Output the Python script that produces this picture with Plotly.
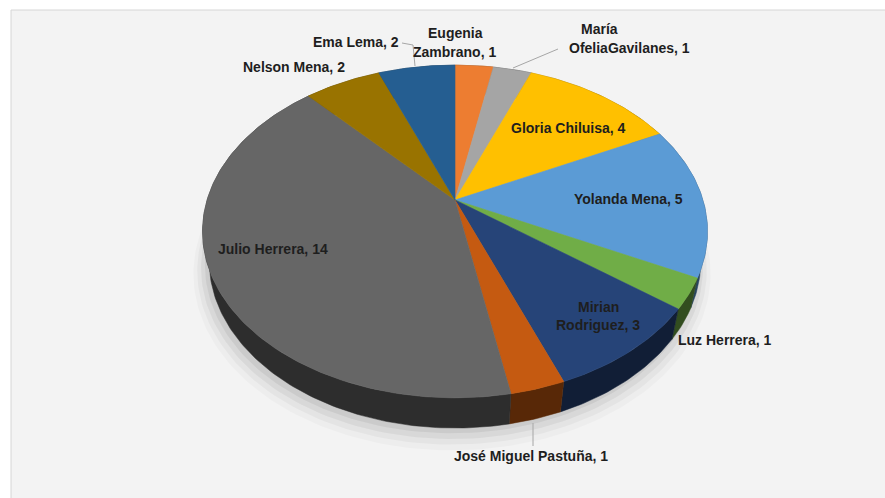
import numpy as np
import plotly.graph_objects as go

# ---------------- data ----------------
names = ["Eugenia Zambrano", "María OfeliaGavilanes", "Gloria Chiluisa", "Yolanda Mena",
         "Luz Herrera", "Mirian Rodriguez", "José Miguel Pastuña", "Julio Herrera",
         "Nelson Mena", "Ema Lema"]
values = [1, 1, 4, 5, 1, 3, 1, 14, 2, 2]
colors = ["#ED7D31", "#A5A5A5", "#FFC000", "#5B9BD5", "#70AD47", "#264478",
          "#C55A11", "#666666", "#997300", "#255E91"]
# number of words on the first line when the label wraps (0 = single line)
wrap_words = [1, 1, 0, 0, 0, 1, 0, 0, 0, 0]

# ---------------- layout / styling (not data) ----------------
W, Hpx = 885, 498
CX, CY = 455, 200             # projected pie centre (px)
K, D = 998.0, 4.026           # perspective scale and camera distance
CA, SA = 0.762, 0.647         # cos / sin of elevation
THICK = 0.161                 # pie thickness (radius units)
SIDE_DARK = 0.45

# label line centres (px) per category, one tuple per line
label_pos = [
    [(455, 33), (454, 52)],
    [(599, 29), (629, 48)],
    [(568, 128)],
    [(628, 199)],
    [(725, 340)],
    [(598, 307), (598, 325)],
    [(531, 456)],
    [(273, 249)],
    [(294, 67)],
    [(356, 42)],
]
leaders = {
    "Ema Lema": [(402, 43), (413, 45), (415, 66)],
    "María OfeliaGavilanes": [(558, 49), (513, 68)],
    "José Miguel Pastuña": [(533, 423), (533, 446)],
}


def proj(theta, z=0.0, r=1.0):
    X = r * np.sin(theta)
    Y = r * np.cos(theta)
    depth = D + Y * CA - z * SA
    up = Y * SA + z * CA
    return CX + K * X / depth, CY - K * up / depth


def darker(hexc, f):
    hexc = hexc.lstrip("#")
    r, g, b = (int(hexc[i:i + 2], 16) for i in (0, 2, 4))
    return "rgb(%d,%d,%d)" % (r * f, g * f, b * f)


total = float(sum(values))
bounds = np.concatenate([[0], np.cumsum(values)]) / total * 2 * np.pi

fig = go.Figure()

# soft shadow below the pie
full = np.linspace(0, 2 * np.pi, 240)
for i, (sc, dy, a) in enumerate([(1.05, 10, 0.025), (1.035, 8, 0.035), (1.02, 6, 0.05), (1.005, 4, 0.06)]):
    sx, sy = proj(full, -THICK, sc)
    fig.add_trace(go.Scatter(x=sx - 3, y=sy + dy, mode="lines", fill="toself",
                             fillcolor="rgba(0,0,0,%.3f)" % a, line=dict(width=0),
                             hoverinfo="skip", showlegend=False))

# side walls
for i in range(len(values)):
    t = np.linspace(bounds[i], bounds[i + 1], max(8, int(values[i] * 12)))
    x1, y1 = proj(t, 0.0)
    x2, y2 = proj(t[::-1], -THICK)
    fig.add_trace(go.Scatter(x=np.concatenate([x1, x2, x1[:1]]),
                             y=np.concatenate([y1, y2, y1[:1]]),
                             mode="lines", fill="toself",
                             fillcolor=darker(colors[i], SIDE_DARK),
                             line=dict(width=0.5, color=darker(colors[i], SIDE_DARK)),
                             hoverinfo="skip", showlegend=False))

# top faces
for i in range(len(values)):
    t = np.linspace(bounds[i], bounds[i + 1], max(8, int(values[i] * 12)))
    x1, y1 = proj(t, 0.0)
    fig.add_trace(go.Scatter(x=np.concatenate([[CX], x1, [CX]]),
                             y=np.concatenate([[CY], y1, [CY]]),
                             mode="lines", fill="toself", fillcolor=colors[i],
                             line=dict(width=0.6, color=colors[i]),
                             name=names[i], hoverinfo="name", showlegend=False))

# leader lines
for nm, pts in leaders.items():
    fig.add_trace(go.Scatter(x=[p[0] for p in pts], y=[p[1] for p in pts], mode="lines",
                             line=dict(color="#a6a6a6", width=1),
                             hoverinfo="skip", showlegend=False))

# labels
for i, nm in enumerate(names):
    words = nm.split(" ")
    label = "%s, %d" % (nm, values[i])
    if wrap_words[i]:
        lines = [" ".join(words[:wrap_words[i]]), " ".join(words[wrap_words[i]:]) + ", %d" % values[i]]
    else:
        lines = [label]
    for ln, (lx, ly) in zip(lines, label_pos[i]):
        fig.add_annotation(x=lx, y=ly, xref="x", yref="y", text=ln, showarrow=False,
                           xanchor="center", yanchor="middle",
                           font=dict(family="Liberation Sans, Arial, sans-serif", size=14,
                                     color="#1e1e1e", weight="bold"))

fig.update_layout(
    width=W, height=Hpx,
    margin=dict(l=0, r=0, t=0, b=0),
    paper_bgcolor="white", plot_bgcolor="white",
    xaxis=dict(range=[0, W], visible=False, fixedrange=True),
    yaxis=dict(range=[Hpx, 0], visible=False, fixedrange=True),
    shapes=[dict(type="rect", xref="x", yref="y", x0=11, y0=10, x1=W + 2, y1=Hpx + 2,
                 fillcolor="#f3f3f3", line=dict(color="#d6d6d6", width=1), layer="below")],
)

fig.write_html("out.html")
